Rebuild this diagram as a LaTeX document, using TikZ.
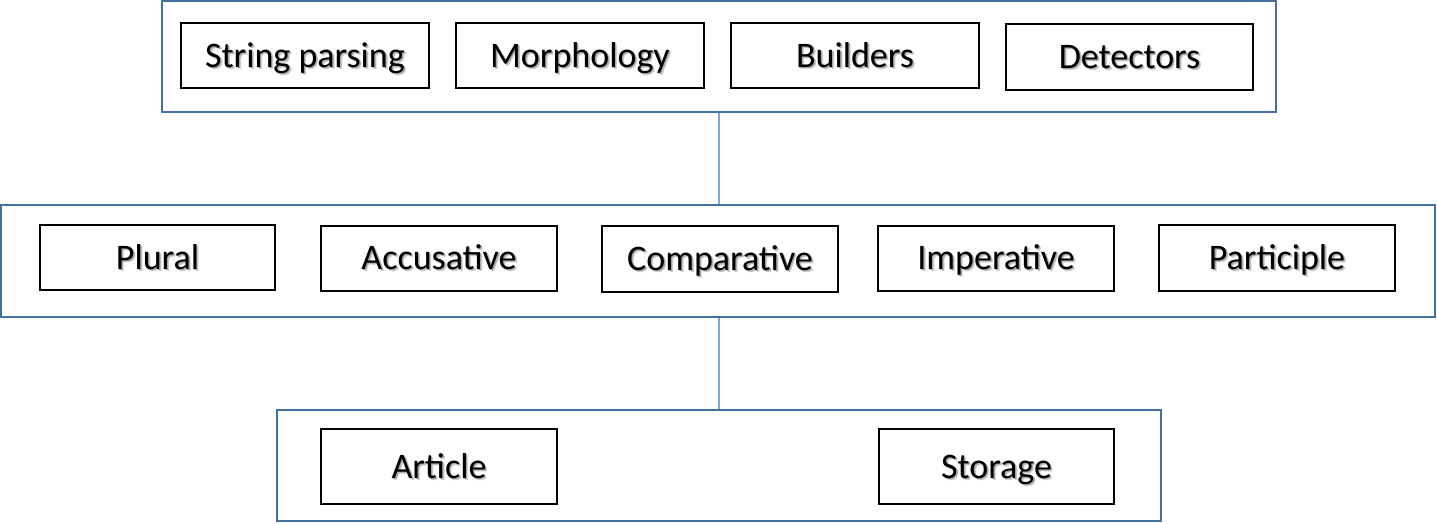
\documentclass[tikz,border=0pt]{standalone}
\usepackage{fontspec}
\setmainfont{Carlito}
\usepackage{xcolor}
\definecolor{frameblue}{HTML}{41719C}
\definecolor{linkblue}{HTML}{7FA8D8}
% soft grey drop shadow behind a label
\newcommand{\shadowed}[1]{\makebox[0pt][l]{\hspace{2.2pt}\raisebox{-2.2pt}{\textcolor{black!18}{#1}}}\makebox[0pt][l]{\hspace{1.2pt}\raisebox{-1.2pt}{\textcolor{black!35}{#1}}}#1}
\tikzset{
  group/.style={draw=frameblue, line width=2pt, inner sep=0pt},
  item/.style={draw=black, line width=2pt, inner sep=0pt,
    font=\fontsize{36}{40}\selectfont, text height=23pt, text depth=0pt},
  link/.style={draw=linkblue, line width=1.2pt}
}
\begin{document}
\begin{tikzpicture}[x=1pt,y=-1pt]
\useasboundingbox (0,0) rectangle (1437,523);
% three groups
\node[group, minimum width=1114pt, minimum height=111pt] (top) at (719,56.5) {};
\node[group, minimum width=1434pt, minimum height=112pt] (mid) at (718,261) {};
\node[group, minimum width=884pt, minimum height=111pt] (bot) at (719,465.5) {};
% top row
\node[item, minimum width=248pt, minimum height=65pt] (parse) at (305,55.5) {\shadowed{String parsing}};
\node[item, minimum width=248pt, minimum height=65pt] (morph) at (580,55.5) {\shadowed{Morphology}};
\node[item, minimum width=248pt, minimum height=65pt] (build) at (855,55.5) {\shadowed{Builders}};
\node[item, minimum width=247pt, minimum height=66pt] (detect) at (1129.5,57) {\shadowed{Detectors}};
% middle row
\node[item, minimum width=235pt, minimum height=65pt] (plural) at (157.5,257.5) {\shadowed{Plural}};
\node[item, minimum width=236pt, minimum height=65pt] (accus) at (439,258) {\shadowed{Accusative}};
\node[item, minimum width=236pt, minimum height=66pt] (compar) at (720,259) {\shadowed{Comparative}};
\node[item, minimum width=236pt, minimum height=65pt] (imper) at (996,258) {\shadowed{Imperative}};
\node[item, minimum width=236pt, minimum height=66pt] (partic) at (1277,258) {\shadowed{Participle}};
% bottom row
\node[item, minimum width=236pt, minimum height=75pt] (article) at (439,466.5) {\shadowed{Article}};
\node[item, minimum width=235pt, minimum height=75pt] (storage) at (996.5,466.5) {\shadowed{Storage}};
% connectors between groups
\draw[link] (top.south) -- (top.south |- mid.north);
\draw[link] (top.south |- mid.south) -- (top.south |- bot.north);
\end{tikzpicture}
\end{document}
